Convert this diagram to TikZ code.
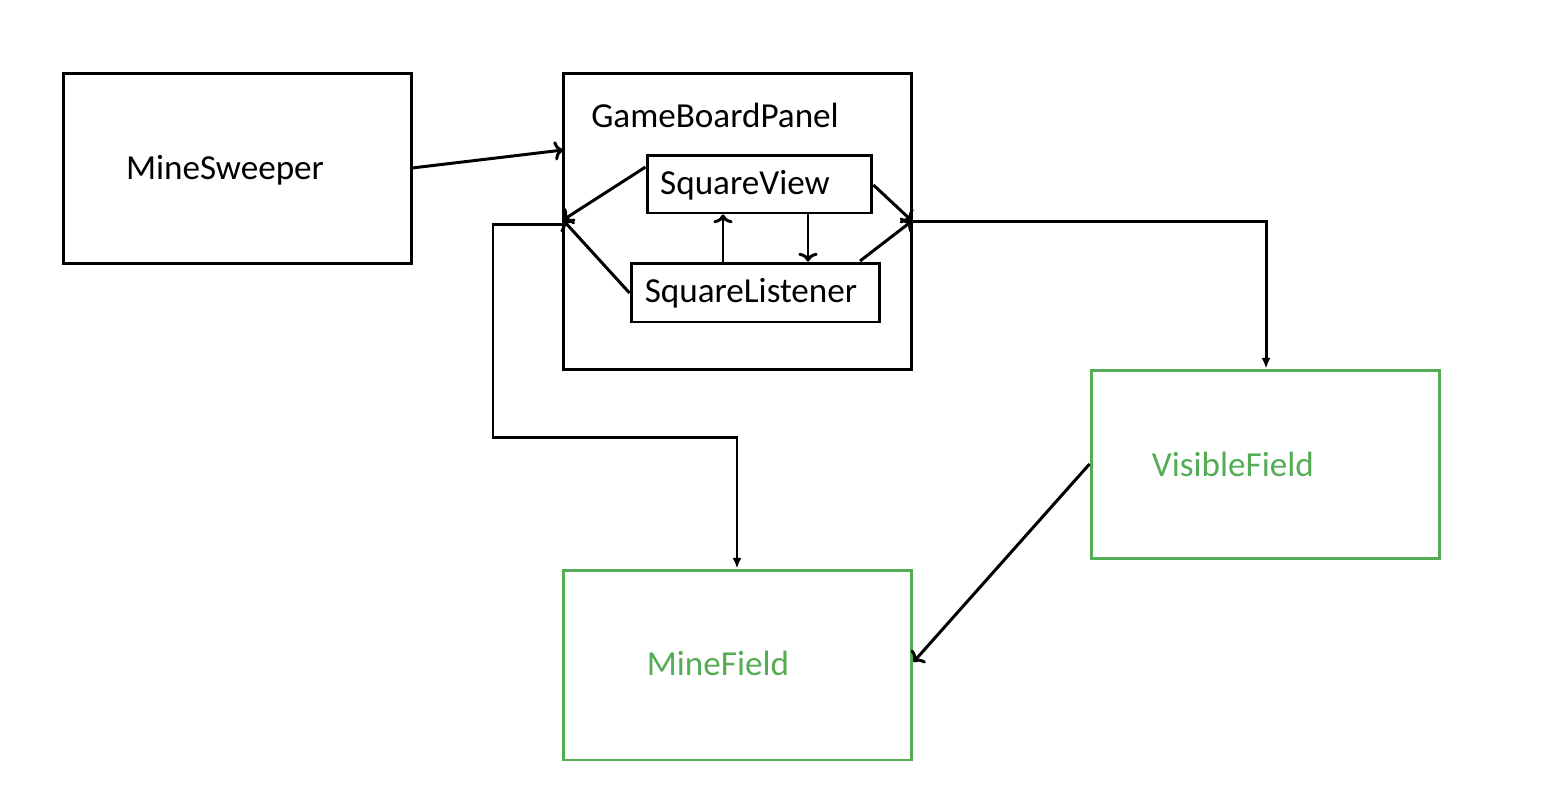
\documentclass[tikz,border=0pt]{standalone}
\usepackage{fontspec}
\setmainfont{Carlito}
\usetikzlibrary{positioning, arrows.meta, calc}
\definecolor{fieldgreen}{RGB}{84,172,84}
\tikzset{
  box/.style={rectangle, draw=black, line width=1.7pt, inner sep=0pt},
  field/.style={box, draw=fieldgreen},
  label/.style={inner sep=0pt, font=\fontsize{20}{24}\selectfont},
  arrow/.style={line width=1.7pt, -{To[length=5pt,width=11pt]}},
  link/.style={line width=1.7pt, -{Latex[length=6pt,width=5pt]}}
}
\begin{document}
\begin{tikzpicture}[x=0.02cm, y=-0.02cm]
\useasboundingbox (0,0) rectangle (1560,806);

% main window and panel
\node[box, minimum width=6.98cm, minimum height=3.82cm] (sweeper) at (237.5,168.5) {};
\node[label] (sweepertext) at (225,170) {MineSweeper};
\node[box, minimum width=6.98cm, minimum height=5.94cm] (panel) at (737.5,221.5) {};
\node[label] (paneltext) at (715,115) {GameBoardPanel};

% inner views
\node[box, minimum width=4.5cm, minimum height=1.16cm] (view) at (759.5,184) {};
\node[label] (viewtext) at (745,185) {SquareView};
\node[box, minimum width=4.98cm, minimum height=1.18cm] (listener) at (755.5,292.5) {};
\node[label] (listenertext) at (751,293) {SquareListener};

% fields
\node[field, minimum width=6.98cm, minimum height=3.78cm] (visible) at (1265.5,464.5) {};
\node[label, text=fieldgreen] (visiblename) at (1233,464) {VisibleField};
\node[field, minimum width=6.98cm, minimum height=3.8cm] (minefield) at (737.5,665) {};
\node[label, text=fieldgreen] (minename) at (718,663) {MineField};

% connection points
\coordinate (panelleft) at (563,220);
\coordinate (panelright) at (912,221);
\coordinate (corner) at (493,224);

\draw[arrow] (412,168) -- (563,150);
\draw[arrow] (view.west |- 0,167) -- (panelleft);
\draw[arrow] (listener.west |- 0,293) -- (panelleft);
\draw[arrow] (listener.north -| 723,0) -- (view.south -| 723,0);
\draw[arrow] (view.south -| 808,0) -- (listener.north -| 808,0);
\draw[arrow] (view.east |- 0,185) -- (panelright);
\draw[arrow] (860,261) -- (panelright);
\draw[link] (panelright) -- (1266,221) -- (visible.north -| 1266,0);
\draw[link] (563,224) -- (corner) -- (493,437) -- (737,437) -- (minefield.north -| 737,0);
\draw[arrow] (visible.west |- 0,464) -- (minefield.east |- 0,662);
\end{tikzpicture}
\end{document}
